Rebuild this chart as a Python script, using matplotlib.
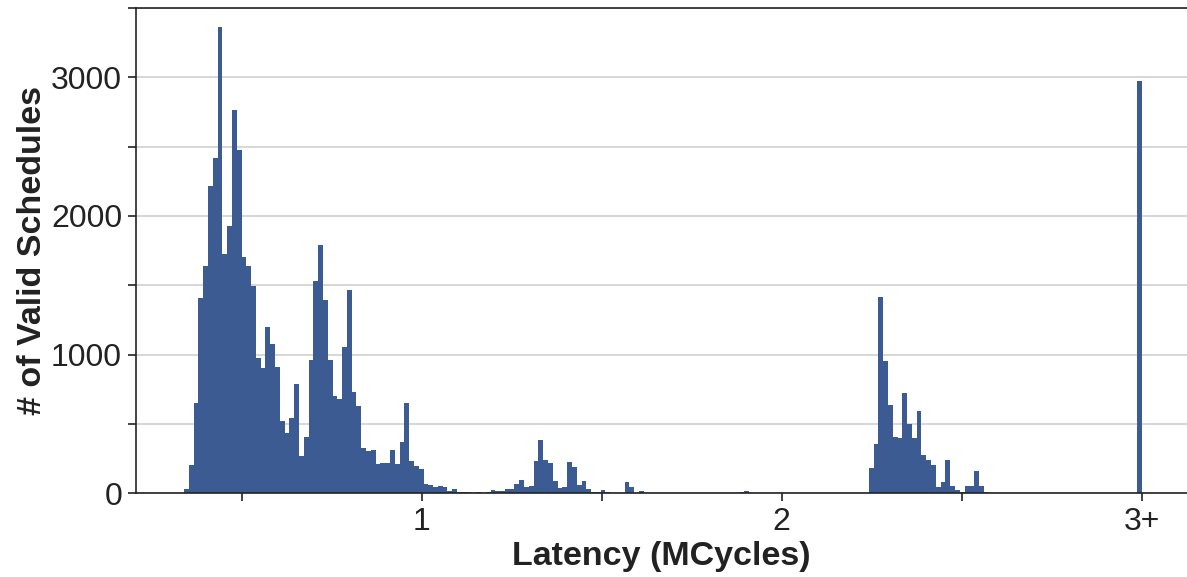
import numpy as np
import matplotlib
matplotlib.use("Agg")
import matplotlib.pyplot as plt

plt.rcParams['font.family'] = ['Liberation Sans', 'DejaVu Sans']

# Histogram: 200 bins from 0.34 to 3.0 MCycles (last bin holds 3+)
bin_start = 0.34
bin_end = 3.0
n_bins = 200

counts = [
    31, 204, 649, 1409, 1637, 2216, 2416, 3363, 1724, 1925,
    2762, 2474, 1702, 1637, 1493, 974, 901, 1197, 1077, 909,
    519, 435, 541, 786, 267, 406, 962, 1531, 1791, 1394,
    962, 702, 680, 1055, 1466, 731, 630, 327, 308, 312,
    212, 219, 219, 312, 212, 370, 651, 233, 197, 175,
    67, 60, 46, 53, 46, 17, 31, 10, 10, 10,
    2, 10, 3, 10, 24, 17, 17, 31, 31, 67,
    96, 46, 53, 233, 385, 240, 219, 89, 38, 46,
    226, 190, 60, 89, 31, 10, 10, 24, 10, 0,
    0, 0, 82, 46, 0, 17, 0, 0, 0, 0,
    0, 0, 0, 0, 0, 0, 0, 0, 0, 0,
    0, 0, 0, 0, 0, 0, 10, 17, 0, 0,
    0, 0, 0, 0, 0, 0, 0, 0, 0, 0,
    0, 0, 0, 0, 0, 0, 0, 0, 0, 0,
    0, 0, 0, 183, 356, 1416, 954, 637, 406, 399,
    724, 500, 399, 594, 276, 240, 204, 46, 82, 240,
    53, 24, 10, 53, 53, 161, 53, 10, 0, 0,
    0, 0, 0, 0, 0, 0, 0, 0, 0, 0,
    0, 0, 0, 0, 0, 0, 0, 0, 0, 0,
    0, 0, 0, 0, 0, 0, 0, 0, 0, 2973,
]

x_ticks = [0.5, 1, 1.5, 2, 2.5, 3]
x_tick_labels = ["", "1", "", "2", "", "3+"]
y_ticks = [0, 500, 1000, 1500, 2000, 2500, 3000, 3500]
y_tick_labels = ["0", "", "1000", "", "2000", "", "3000", ""]

edges = np.linspace(bin_start, bin_end, n_bins + 1)
width = edges[1] - edges[0]

fig = plt.figure(figsize=(11.87, 5.77), dpi=100)
ax = fig.add_axes([136/1187, 1 - 493.3/577, 1 - 136/1187, (493.3 - 8)/577])

ax.set_axisbelow(True)
ax.yaxis.grid(True, color='#cccccc', linewidth=1.1)
ax.bar(edges[:-1], counts, width=width, align='edge', color='#3b5b92',
       linewidth=0, zorder=2)

ax.set_xlim(0.2064, 3.1258)
ax.set_ylim(0, 3500)
ax.set_xticks(x_ticks)
ax.set_xticklabels(x_tick_labels)
ax.set_yticks(y_ticks)
ax.set_yticklabels(y_tick_labels)

ax.tick_params(axis='both', direction='out', length=6, width=1.2,
               color='#222222', labelsize=23, labelcolor='#222222', pad=4)

for side in ['left', 'bottom', 'top']:
    ax.spines[side].set_color('#222222')
    ax.spines[side].set_linewidth(1.2)
ax.spines['right'].set_visible(False)

ax.set_xlabel('Latency (MCycles)', fontsize=24.5, fontweight='bold',
              color='#222222', labelpad=3)
ax.set_ylabel('# of Valid Schedules', fontsize=24.5, fontweight='bold',
              color='#222222', labelpad=2)

fig.savefig('out.png', dpi=100)
